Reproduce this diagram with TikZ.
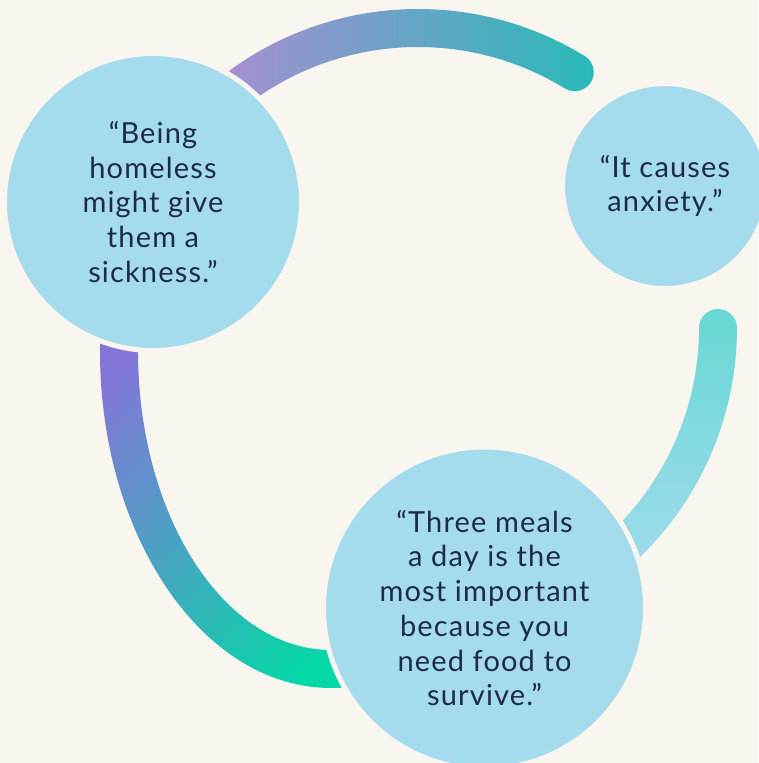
\documentclass[tikz,border=0pt]{standalone}
\usepackage{fontspec}
\setmainfont{Lato}[LetterSpace=4]
\definecolor{paper}{RGB}{249,246,239}
\definecolor{bubblefill}{RGB}{164,220,238}
\definecolor{inktext}{RGB}{30,42,72}
\definecolor{lavender}{RGB}{176,140,212}
\definecolor{indigoband}{RGB}{108,130,212}
\definecolor{tealband}{RGB}{40,186,184}
\definecolor{mintband}{RGB}{104,216,212}
\definecolor{purpleband}{RGB}{131,118,216}
\definecolor{bluegreen}{RGB}{66,160,196}
\definecolor{greenband}{RGB}{4,216,166}

\begin{document}
\begin{tikzpicture}[x=1pt, y=1pt,
  bubble/.style = {circle, fill=bubblefill, draw=paper, line width=5pt,
    inner sep=0pt, align=center, text=inktext,
    font=\fontsize{29}{34.7}\selectfont}]

  \fill[paper] (0,0) rectangle (758,763);
  \useasboundingbox (0,0) rectangle (758,763);
  \coordinate (hub) at (418,435);

  \shade[left color=lavender, middle color=indigoband, right color=tealband]
    (hub) ++(135:319pt) arc[start angle=135, end angle=58.5, radius=319pt]
    arc[start angle=58.5, end angle=-121.5, radius=19pt]
    arc[start angle=58.5, end angle=135, radius=281pt] -- cycle;

  \shade[top color=mintband, middle color=bubblefill!80!mintband, bottom color=bubblefill]
    (hub) ++(-55:319pt) arc[start angle=-55, end angle=0, radius=319pt]
    arc[start angle=0, end angle=180, radius=19pt]
    arc[start angle=0, end angle=-55, radius=281pt] -- cycle;

  \shade[top color=purpleband, middle color=bluegreen, bottom color=greenband,
    shading angle=45]
    (100,480) -- (100,412)
    arc[start angle=180, end angle=270, x radius=231pt, y radius=337pt]
    -- (400,75) -- (400,113) -- (331,113)
    arc[start angle=270, end angle=180, x radius=193pt, y radius=299pt]
    -- (138,480) -- cycle;

  \node[bubble, minimum size=297pt] (sickness) at (153,561)
    {“Being\\homeless\\might give\\them a\\sickness.”};
  \node[bubble, minimum size=205pt] (anxiety) at (665,577)
    {“It causes\\anxiety.”};
  \node[bubble, minimum size=322pt] (meals) at (484.5,155)
    {“Three meals\\a day is the\\most important\\because you\\need food to\\survive.”};
\end{tikzpicture}
\end{document}
